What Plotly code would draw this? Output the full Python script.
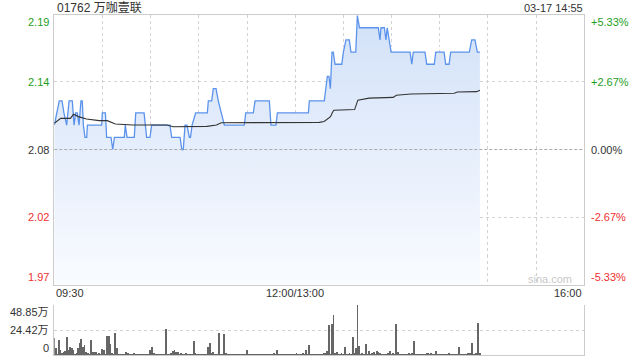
import plotly.graph_objects as go

# ---------------- data ----------------
stock_title = "01762 万咖壹联"
stamp = "03-17 14:55"
prev_close = 2.08
pct_levels = [0.0533, 0.0267, 0.0, -0.0267, -0.0533]
price_labels = ["2.19", "2.14", "2.08", "2.02", "1.97"]
pct_labels = ["+5.33%", "+2.67%", "0.00%", "-2.67%", "-5.33%"]
time_labels = ["09:30", "12:00/13:00", "16:00"]
time_label_min = [0, 150, 330]
grid_minutes = [30, 60, 90, 120, 150, 180, 210, 240, 270, 300]
session_minutes = 330
vol_labels = ["48.85万", "24.42万", "0"]
vol_max = 488500

price_t = [0.0, 3.1, 4.8, 6.0, 7.7, 9.2, 11.2, 12.3, 13.3, 14.3, 15.4, 16.6, 17.4, 18.1, 19.1,
           20.2, 20.6, 29.5, 29.9, 31.8, 32.6, 35.3, 36.4, 37.4, 43.6, 44.2, 45.3, 49.8, 50.7,
           55.9, 56.7, 57.5, 59.6, 60.6, 72.0, 73.1, 78.3, 79.4, 80.3, 81.4, 82.6, 84.1, 84.8,
           85.8, 88.0, 95.3, 95.9, 98.0, 99.0, 100.7, 102.1, 104.2, 105.9, 118.3, 119.2, 123.9,
           125.0, 133.9, 134.9, 138.0, 138.9, 158.2, 158.8, 168.1, 169.0, 170.0, 171.0, 171.9,
           172.9, 173.7, 174.8, 179.0, 180.0, 181.6, 183.7, 184.7, 187.7, 188.7, 190.0, 201.7,
           202.8, 203.4, 205.5, 206.5, 207.3, 209.7, 221.5, 222.6, 223.5, 230.8, 231.9, 236.6,
           237.5, 242.7, 243.7, 245.8, 246.8, 258.4, 259.9, 261.9, 263.4, 265.0]
price_v = [2.10, 2.12, 2.12, 2.11, 2.10, 2.12, 2.12, 2.10, 2.11, 2.11, 2.10, 2.12, 2.12, 2.10, 2.09,
           2.09, 2.10, 2.10, 2.11, 2.11, 2.09, 2.09, 2.08, 2.09, 2.09, 2.10, 2.09, 2.09, 2.11,
           2.11, 2.10, 2.09, 2.09, 2.10, 2.10, 2.09, 2.09, 2.08, 2.08, 2.10, 2.10, 2.09, 2.09,
           2.10, 2.11, 2.11, 2.12, 2.12, 2.13, 2.13, 2.12, 2.11, 2.10, 2.10, 2.11, 2.11,
           2.12, 2.12, 2.10, 2.10, 2.11, 2.11, 2.12, 2.12, 2.13, 2.14, 2.14, 2.13,
           2.16, 2.16, 2.15, 2.15, 2.16, 2.17, 2.17, 2.16, 2.16, 2.19, 2.18, 2.18,
           2.17, 2.18, 2.18, 2.17, 2.18, 2.16, 2.16, 2.15, 2.16, 2.16, 2.15, 2.15,
           2.16, 2.16, 2.15, 2.15, 2.16, 2.16, 2.17, 2.17, 2.16, 2.16]

avg_t = [0, 4, 10, 12, 15, 20, 28, 33, 38, 49, 70, 74, 95, 101, 104, 165, 168, 170, 172, 173,
         174, 187, 189, 196, 211, 213, 222, 249, 251, 263, 265]
avg_v = [2.1015, 2.1056, 2.1056, 2.1089, 2.1070, 2.1050, 2.1037, 2.1037, 2.1010, 2.1001, 2.1001,
         2.0987, 2.0990, 2.1001, 2.1020, 2.1023, 2.1030, 2.1048, 2.1070, 2.1100, 2.1122, 2.1128,
         2.1205, 2.1222, 2.1228, 2.1245, 2.1256, 2.1262, 2.1272, 2.1275, 2.1286]

volume = [
    167000, 71000, 9000, 145000, 48000, 12000, 32000, 38000, 177000, 48000,
    80000, 71000, 48000, 8000, 10000, 64000, 122000, 160000, 80000, 96000,
    26000, 16000, 7000, 145000, 32000, 26000, 32000, 9000, 19000, 6000,
    58000, 48000, 5000, 183000, 183000, 112000, 16000, 7000, 215000, 64000,
    8000, 6000, 9000, 5000, 7000, 32000, 22000, 6000, 8000, 5000,
    22000, 9000, 6000, 5000, 7000, 4000, 6000, 8000, 5000, 9000,
    48000, 80000, 22000, 6000, 5000, 8000, 4000, 6000, 7000, 9000,
    250000, 8000, 6000, 22000, 38000, 48000, 32000, 32000, 9000, 12000,
    8000, 6000, 10000, 5000, 7000, 4000, 8000, 135000, 22000, 6000,
    7000, 5000, 6000, 9000, 8000, 6000, 80000, 119000, 16000, 32000,
    7000, 5000, 9000, 215000, 6000, 8000, 209000, 12000, 6000, 5000,
    7000, 4000, 6000, 8000, 5000, 6000, 9000, 4000, 7000, 6000,
    48000, 8000, 5000, 6000, 7000, 4000, 6000, 5000, 8000, 6000,
    5000, 7000, 6000, 9000, 5000, 8000, 6000, 12000, 7000, 48000,
    9000, 6000, 5000, 8000, 6000, 7000, 5000, 9000, 6000, 8000,
    7000, 12000, 6000, 9000, 8000, 10000, 6000, 48000, 7000, 96000,
    8000, 6000, 5000, 7000, 9000, 6000, 8000, 7000, 12000, 10000,
    39000, 293000, 9000, 303000, 391000, 14000, 32000, 8000, 7000, 10000,
    6000, 80000, 9000, 7000, 12000, 8000, 177000, 10000, 71000, 488500,
    90000, 8000, 16000, 6000, 106000, 9000, 39000, 7000, 16000, 26000,
    8000, 39000, 26000, 10000, 7000, 9000, 5000, 8000, 12000, 39000,
    7000, 16000, 6000, 303000, 26000, 9000, 7000, 5000, 8000, 6000,
    7000, 10000, 5000, 16000, 138000, 8000, 6000, 7000, 9000, 5000,
    8000, 6000, 10000, 16000, 7000, 16000, 9000, 6000, 39000, 8000,
    6000, 9000, 5000, 7000, 8000, 6000, 10000, 5000, 7000, 9000,
    6000, 8000, 77000, 7000, 5000, 9000, 6000, 8000, 16000, 16000,
    116000, 9000, 7000, 12000, 310000, 10000,
]
vol_minutes = list(range(len(volume)))

# ---------------- derived ----------------
levels = [prev_close * (1 + p) for p in pct_levels]
y_lo, y_hi = min(levels), max(levels)

W, H = 640, 360
def px(x):
    return x / W
def py(y):
    return 1 - y / H

GREEN = "#1ea01e"
RED = "#ee3030"
DARK = "#333333"
level_colors = [GREEN, GREEN, DARK, RED, RED]
FONT = "Liberation Sans, Arial, Noto Sans CJK SC, sans-serif"

fig = go.Figure()

fig.add_trace(go.Scatter(
    x=price_t, y=price_v, mode="lines",
    line=dict(color="#5b93ec", width=1.3),
    fill="tozeroy",
    fillgradient=dict(type="vertical",
                      colorscale=[[0, "rgb(249,251,255)"], [1, "rgb(210,225,248)"]],
                      start=y_lo, stop=y_hi),
    hoverinfo="skip", xaxis="x", yaxis="y"))

fig.add_trace(go.Scatter(
    x=avg_t, y=avg_v, mode="lines",
    line=dict(color="#333333", width=1.1),
    hoverinfo="skip", xaxis="x", yaxis="y"))

fig.add_trace(go.Bar(
    x=vol_minutes, y=volume, width=0.55,
    marker=dict(color="#666666", line=dict(width=0)),
    hoverinfo="skip", xaxis="x2", yaxis="y2"))

xdom = [px(54.3), px(584.3)]
grid_color = "#d2d2d2"
border_color = "#cccccc"

fig.update_layout(
    width=W, height=H,
    margin=dict(l=0, r=0, t=0, b=0),
    paper_bgcolor="white", plot_bgcolor="rgba(0,0,0,0)",
    showlegend=False, bargap=0,
    font=dict(family=FONT, size=11, color=DARK),
    xaxis=dict(domain=xdom, range=[0, session_minutes], tickvals=grid_minutes,
               showticklabels=False, ticks="", showgrid=True, gridcolor=grid_color,
               griddash="dot", gridwidth=1, showline=True, mirror=True,
               linecolor=border_color, linewidth=1, zeroline=False, anchor="y",
               fixedrange=True),
    yaxis=dict(domain=[py(284.5), py(14.5)], range=[y_lo, y_hi],
               tickvals=[levels[1], levels[3]], showticklabels=False, ticks="",
               showgrid=True, gridcolor=grid_color, griddash="dot", gridwidth=1,
               showline=True, mirror=True, linecolor=border_color, linewidth=1,
               zeroline=False, anchor="x", fixedrange=True),
    xaxis2=dict(domain=xdom, range=[0, session_minutes], showticklabels=False,
                ticks="", showgrid=False, showline=True, mirror=False,
                linecolor=border_color, linewidth=1, zeroline=False, anchor="y2",
                fixedrange=True),
    yaxis2=dict(domain=[py(355), py(305)], range=[0, vol_max],
                tickvals=[vol_max / 2, vol_max], showticklabels=False, ticks="",
                showgrid=True, gridcolor=grid_color, griddash="dot", gridwidth=1,
                showline=True, mirror=True, linecolor=border_color, linewidth=1,
                zeroline=False, anchor="x2", fixedrange=True),
)

# previous close dashed line
fig.add_shape(type="line", xref="x domain", yref="y", x0=0, x1=1,
              y0=prev_close, y1=prev_close,
              line=dict(color="#aaaaaa", width=1, dash="3px,2px"))

ann = []
# title and timestamp
ann.append(dict(text=stock_title, x=px(55), y=py(7.5), xref="paper", yref="paper",
                xanchor="left", yanchor="middle", showarrow=False,
                font=dict(size=12, color=DARK)))
ann.append(dict(text=stamp, x=px(584.5), y=py(7.5), xref="paper", yref="paper",
                xanchor="right", yanchor="middle", showarrow=False,
                font=dict(size=11, color=DARK)))
# price & percent labels
for i, (lv, pl, cl, col) in enumerate(zip(levels, price_labels, pct_labels, level_colors)):
    if i == 0:
        ya, ys = "top", 1
    elif i == len(levels) - 1:
        ya, ys = "bottom", 0
    else:
        ya, ys = "middle", 0
    ann.append(dict(text=pl, x=px(51), y=lv, xref="paper", yref="y",
                    xanchor="right", yanchor=ya, showarrow=False,
                    font=dict(size=11, color=col)))
    ann.append(dict(text=cl, x=px(589), y=lv, xref="paper", yref="y",
                    xanchor="left", yanchor=ya, showarrow=False,
                    font=dict(size=11, color=col)))
# time labels
for lab, m in zip(time_labels, time_label_min):
    xa = "left" if m == 0 else ("right" if m == session_minutes else "center")
    ann.append(dict(text=lab, x=m, y=py(293), xref="x", yref="paper",
                    xanchor=xa, yanchor="middle", showarrow=False,
                    font=dict(size=11, color=DARK)))
# volume labels
for lab, yy in zip(vol_labels, [311.5, 329.7, 348]):
    ann.append(dict(text=lab, x=px(51), y=py(yy), xref="paper", yref="paper",
                    xanchor="right", yanchor="middle", showarrow=False,
                    font=dict(size=11, color=DARK)))
# watermark
ann.append(dict(text="sina.com", x=px(573.5), y=py(279), xref="paper", yref="paper",
                xanchor="right", yanchor="middle", showarrow=False,
                font=dict(size=11, color="#c8c8c8")))

fig.update_layout(annotations=ann)

fig.write_html("out.html", config={"displayModeBar": False})
